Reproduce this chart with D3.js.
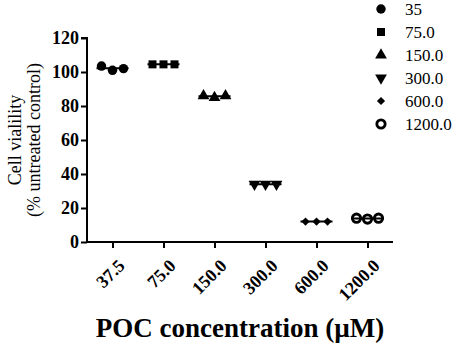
<!DOCTYPE html>
<html>
<head>
<meta charset="utf-8">
<script src="https://cdn.jsdelivr.net/npm/d3@7"></script>
<style>
body { margin: 0; background: #fff; }
</style>
</head>
<body>
<svg width="457" height="345"></svg>
<script>
// concentrations (x categories) and replicate values
var categories = ["37.5", "75.0", "150.0", "300.0", "600.0", "1200.0"];
var legendLabels = ["35", "75.0", "150.0", "300.0", "600.0", "1200.0"];
var rep1 = [103.5, 104.5, 86.0, 34.0, 12.0, 14.0];
var rep2 = [101.0, 104.5, 85.0, 34.0, 12.0, 13.5];
var rep3 = [102.0, 104.5, 86.0, 34.0, 12.0, 14.0];
var yTicks = [0, 20, 40, 60, 80, 100, 120];

var serif = "'Liberation Serif', 'Times New Roman', serif";
var svg = d3.select("svg").attr("font-family", serif);
var margin = {left: 87, right: 64, top: 38, bottom: 103};
var width = 457 - margin.left - margin.right,
    height = 345 - margin.top - margin.bottom;

var g = svg.append("g").attr("transform", "translate(" + margin.left + "," + margin.top + ")");

var x = d3.scalePoint().domain(categories).range([0, width]).padding(0.5);
var y = d3.scaleLinear().domain([0, 120]).range([height, 0]);

var yAxis = g.append("g")
    .call(d3.axisLeft(y).tickValues(yTicks).tickSize(6).tickPadding(2));
var xAxis = g.append("g")
    .attr("transform", "translate(0," + height + ")")
    .call(d3.axisBottom(x).tickSize(6).tickPadding(3).tickSizeOuter(0));

[xAxis, yAxis].forEach(function(a) {
  a.attr("font-family", serif).attr("font-size", 18).attr("font-weight", "bold");
  a.selectAll("path, line").attr("stroke", "#000").attr("stroke-width", 2);
  a.select(".domain").attr("d", a === yAxis ? "M0," + height + "V0h-6" : "M0,0H" + width);
  a.selectAll("text").attr("fill", "#000");
});

xAxis.selectAll("text")
    .attr("text-anchor", "end")
    .attr("dy", "0.35em")
    .attr("transform", "translate(2,14) rotate(-45)");

var symbols = [d3.symbolCircle, d3.symbolSquare, d3.symbolTriangle, d3.symbolTriangle, d3.symbolSquare, d3.symbolCircle];
var sizes = [70, 64, 60, 60, 34, 55];

function marker(sel, i) {
  var p = sel.append("path")
      .attr("d", d3.symbol().type(symbols[i]).size(sizes[i]));
  if (i === 3) p.attr("transform", "rotate(180)");
  if (i === 4) p.attr("transform", "rotate(45)");
  if (i === 5) p.attr("fill", "#fff").attr("stroke", "#000").attr("stroke-width", 2.8);
  else p.attr("fill", "#000");
  return p;
}

var offsets = [-11, 0, 11];
categories.forEach(function(c, i) {
  var vals = [rep1[i], rep2[i], rep3[i]];
  var mean = d3.mean(vals), sd = d3.deviation(vals) || 0;
  var cx = x(c);
  vals.forEach(function(v, j) {
    var m = g.append("g").attr("transform", "translate(" + (cx + offsets[j]) + "," + y(v) + ")");
    marker(m, i);
  });
  g.append("line").attr("x1", cx - 16).attr("x2", cx + 16)
      .attr("y1", y(mean)).attr("y2", y(mean))
      .attr("stroke", "#000").attr("stroke-width", 2);
  g.append("line").attr("x1", cx).attr("x2", cx)
      .attr("y1", y(mean + sd)).attr("y2", y(mean - sd))
      .attr("stroke", "#000").attr("stroke-width", 2);
});

// legend
var legend = svg.append("g").attr("transform", "translate(381,9)");
legendLabels.forEach(function(l, i) {
  var row = legend.append("g").attr("transform", "translate(0," + (i * 23) + ")");
  var m = row.append("g");
  marker(m, i);
  row.append("text").attr("x", 24).attr("y", 0).attr("dy", "0.35em")
      .attr("font-size", 17).text(l);
});

// axis titles
var yt = svg.append("text")
    .attr("transform", "translate(21,140) rotate(-90)")
    .attr("text-anchor", "middle")
    .attr("font-size", 18);
yt.append("tspan").attr("x", 0).attr("dy", 0).text("Cell vialility");
yt.append("tspan").attr("x", 0).attr("dy", 19).text("(% untreated control)");

svg.append("text")
    .attr("x", 240).attr("y", 337)
    .attr("text-anchor", "middle")
    .attr("font-size", 27).attr("font-weight", "bold")
    .text("POC concentration (\u00b5M)");
</script>
</body>
</html>
